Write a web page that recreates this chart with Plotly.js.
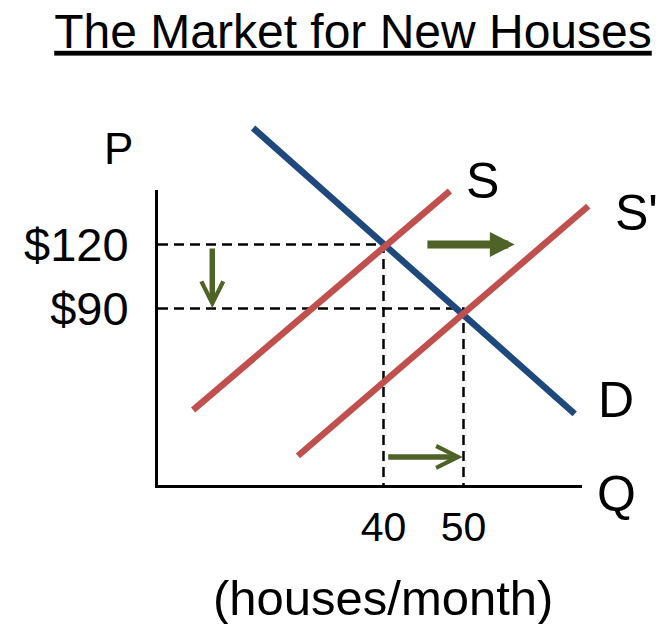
<!DOCTYPE html>
<html><head><meta charset="utf-8">
<script src="https://cdn.plot.ly/plotly-3.0.1.min.js"></script>
<style>html,body{margin:0;padding:0;background:#fff}#chart{width:663px;height:624px}</style>
</head><body><div id="chart"></div>
<script>
// ---- Data: quantity Q (houses/month) and price P ($) ----
const demandQ = [23.7, 63.9];
const demandP = [174.6, 40.6];
const supplyQ = [16.2, 48.3];
const supplyP = [42.4, 145.1];
const supplyNewQ = [29.3, 65.6];
const supplyNewP = [20.9, 138.0];
const equilibriumQ = [40, 50];
const equilibriumP = [120, 90];
const qtyTicks = [40, 50];
const qtyTickLabels = ['40', '50'];
const priceTicks = [120, 90];
const priceTickLabels = ['$120', '$90'];
// shift arrows (tail -> head)
const supplyShiftQ = [45.3, 56.4];
const supplyShiftP = [120, 120];
const priceDropQ = [18.6, 18.6];
const priceDropP = [118.8, 90.2];
const qtyRiseQ = [40.4, 49.9];
const qtyRiseP = [20.4, 20.4];

// ---- Layout geometry ----
const W = 663, H = 624;
const pxPerQ = 8, pxPerP = 64 / 30;
const qAt = px => 40 + (px - 383.5) / pxPerQ;
const pAt = py => 120 - (py - 244.5) / pxPerP;
const box = {l: 158, r: 582, t: 190, b: 485};
const xr = [qAt(box.l), qAt(box.r)];
const yr = [pAt(box.b), pAt(box.t)];
const fx = px => px / W, fy = py => 1 - py / H;

const FONT = 'Liberation Sans, Arial, sans-serif';
const RED = '#C0504D', BLUE = '#1F497D', GREEN = '#4F6228';

const traces = [];
equilibriumQ.forEach((q, i) => {
  traces.push({x: [xr[0], q, q], y: [equilibriumP[i], equilibriumP[i], yr[0]],
    xaxis: 'x', yaxis: 'y', mode: 'lines', hoverinfo: 'skip',
    line: {color: '#000', width: 2.5, dash: '10px,6px'}});
});
traces.push({x: demandQ, y: demandP, xaxis: 'x2', yaxis: 'y2', mode: 'lines', line: {color: BLUE, width: 6.5}});
traces.push({x: supplyQ, y: supplyP, xaxis: 'x2', yaxis: 'y2', mode: 'lines', line: {color: RED, width: 6.5}});
traces.push({x: supplyNewQ, y: supplyNewP, xaxis: 'x2', yaxis: 'y2', mode: 'lines', line: {color: RED, width: 6.5}});

function arrow(qs, ps, style, width, size) {
  return {xref: 'x', yref: 'y', axref: 'x', ayref: 'y', x: qs[1], y: ps[1], ax: qs[0], ay: ps[0],
    text: '', showarrow: true, arrowhead: style, arrowwidth: width, arrowsize: size,
    arrowcolor: GREEN, standoff: 0};
}
function label(text, px, py, size, xanchor) {
  return {xref: 'paper', yref: 'paper', x: fx(px), y: fy(py), text: text, showarrow: false,
    xanchor: xanchor || 'center', yanchor: 'middle', font: {family: FONT, size: size, color: '#000'}};
}

const layout = {
  width: W, height: H, margin: {l: 0, r: 0, t: 0, b: 0},
  paper_bgcolor: '#fff', plot_bgcolor: 'rgba(0,0,0,0)', showlegend: false,
  font: {family: FONT, color: '#000'},
  title: {text: '<u>The Market for New Houses</u>', x: fx(353), xref: 'paper', xanchor: 'center',
    y: 1 - 31 / H, yref: 'container', yanchor: 'middle', font: {family: FONT, size: 48, color: '#000'}},
  xaxis: {domain: [fx(box.l), fx(box.r)], range: xr, showline: true, linewidth: 3, linecolor: '#000',
    showgrid: false, zeroline: false, ticks: '', tickvals: qtyTicks, ticktext: qtyTickLabels,
    tickfont: {family: FONT, size: 41, color: '#000'}, ticklabelstandoff: 4, fixedrange: true},
  yaxis: {domain: [fy(box.b), fy(box.t)], range: yr, showline: true, linewidth: 3, linecolor: '#000',
    showgrid: false, zeroline: false, ticks: '', tickvals: priceTicks, ticktext: priceTickLabels,
    tickfont: {family: FONT, size: 47, color: '#000'}, ticklabelstandoff: 17, fixedrange: true},
  xaxis2: {domain: [0, 1], range: [qAt(0), qAt(W)], visible: false, anchor: 'y2', fixedrange: true},
  yaxis2: {domain: [0, 1], range: [pAt(H), pAt(0)], visible: false, anchor: 'x2', fixedrange: true},
  annotations: [
    arrow(supplyShiftQ, supplyShiftP, 2, 8, 0.62),
    arrow(priceDropQ, priceDropP, 5, 5.5, 0.78),
    arrow(qtyRiseQ, qtyRiseP, 5, 5.5, 0.78),
    label('P', 118, 148, 44),
    label('S', 482, 181, 50),
    label("S'", 613, 213, 50, 'left'),
    label('D', 616, 400, 50),
    label('Q', 616, 494, 50),
    label('(houses/month)', 383, 598, 49)
  ]
};

Plotly.newPlot('chart', traces, layout, {displayModeBar: false, staticPlot: true});
</script></body></html>
